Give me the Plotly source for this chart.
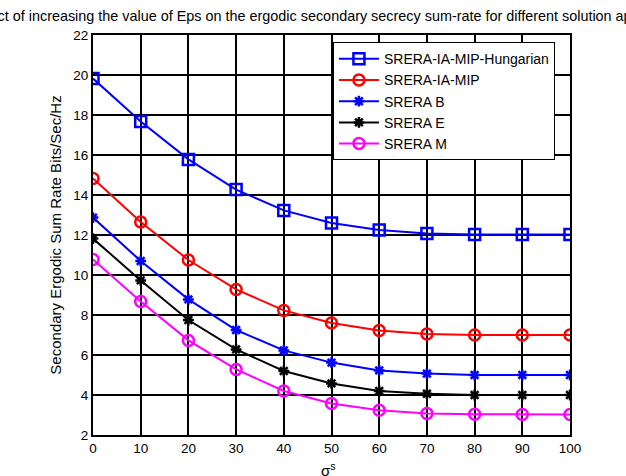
import plotly.graph_objects as go

eps = [0, 10, 20, 30, 40, 50, 60, 70, 80, 90, 100]
hungarian = [19.82, 17.67, 15.78, 14.27, 13.23, 12.6, 12.25, 12.08, 12.03, 12.03, 12.03]
ia_mip = [14.83, 12.65, 10.75, 9.28, 8.23, 7.6, 7.22, 7.05, 7.0, 7.0, 7.0]
srera_b = [12.87, 10.7, 8.78, 7.25, 6.23, 5.62, 5.23, 5.07, 5.0, 5.0, 5.0]
srera_e = [11.82, 9.73, 7.75, 6.28, 5.2, 4.58, 4.2, 4.06, 4.0, 4.0, 4.0]
srera_m = [10.78, 8.67, 6.73, 5.28, 4.2, 3.58, 3.24, 3.07, 3.04, 3.03, 3.03]

names = ["SRERA-IA-MIP-Hungarian", "SRERA-IA-MIP", "SRERA B", "SRERA E", "SRERA M"]
series = [hungarian, ia_mip, srera_b, srera_e, srera_m]
colors = ["#0000ff", "#ff0000", "#0000ff", "#000000", "#ff00ff"]
symbols = ["square-open", "circle-open", "asterisk-open", "asterisk-open", "circle-open"]
sizes = [11, 11, 9, 9, 11]

fig = go.Figure()
for n, s, c, sym, sz in zip(names, series, colors, symbols, sizes):
    fig.add_trace(go.Scatter(
        x=eps, y=s, name=n, mode="lines+markers",
        line=dict(color=c, width=2),
        marker=dict(symbol=sym, size=sz, color=c, line=dict(color=c, width=2.5)),
    ))

font = "Liberation Sans, Arial, sans-serif"
fig.update_layout(
    width=626, height=476,
    margin=dict(l=93, r=56, t=35, b=41),
    paper_bgcolor="white", plot_bgcolor="white",
    font=dict(family=font, size=13, color="black"),
    title=dict(
        text="Effect of increasing the value of Eps on the ergodic secondary secrecy sum-rate for different solution approaches",
        xref="paper", x=0.5, xanchor="center", y=0.966, yanchor="middle",
        font=dict(size=14.4, color="black"),
    ),
    showlegend=True,
    legend=dict(
        x=0.503, y=0.982, xanchor="left", yanchor="top",
        bgcolor="white", bordercolor="black", borderwidth=1,
        font=dict(size=14), tracegroupgap=0, itemwidth=40,
    ),
    xaxis=dict(
        range=[0, 100], tickvals=list(range(0, 101, 10)),
        showgrid=True, gridcolor="black", gridwidth=1.5,
        showline=True, linecolor="black", linewidth=2, mirror=True,
        ticks="inside", ticklen=5, tickcolor="black",
        zeroline=False, tickfont=dict(size=13.5), automargin=False,
    ),
    yaxis=dict(
        range=[2, 22], tickvals=list(range(2, 23, 2)),
        showgrid=True, gridcolor="black", gridwidth=1.5,
        showline=True, linecolor="black", linewidth=2, mirror=True,
        ticks="inside", ticklen=5, tickcolor="black",
        zeroline=False, tickfont=dict(size=13.5), automargin=False,
        title=dict(text="Secondary Ergodic Sum Rate Bits/Sec/Hz", standoff=8, font=dict(size=15)),
    ),
    annotations=[dict(
        text="σ<sup>s</sup>", xref="paper", yref="paper",
        x=0.494, y=-0.058, xanchor="center", yanchor="top",
        showarrow=False, font=dict(size=15, color="black"),
    )],
)

fig.write_html("out.html", config={"displayModeBar": False},
               post_script="document.body.style.margin='0px';")
